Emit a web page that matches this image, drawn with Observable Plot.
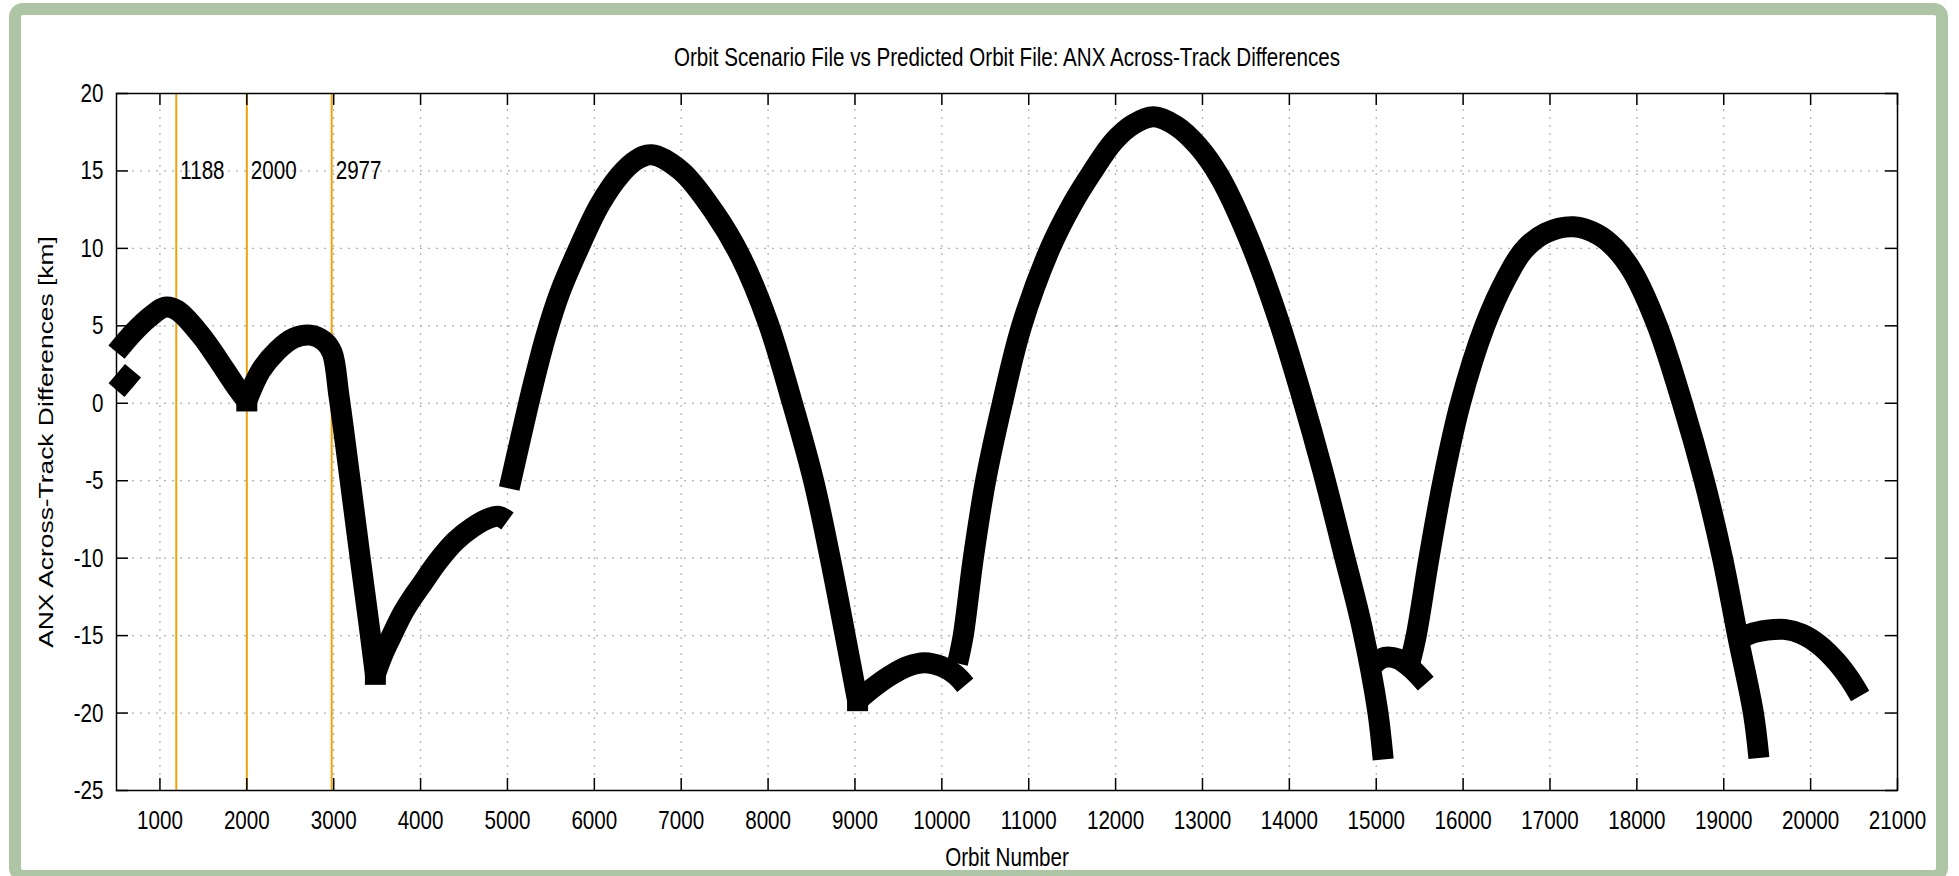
<!DOCTYPE html>
<html><head><meta charset="utf-8">
<script src="https://cdn.jsdelivr.net/npm/d3@7"></script>
<script src="https://cdn.jsdelivr.net/npm/@observablehq/plot@0.6"></script>
<style>
html,body{margin:0;padding:0;background:#fff;overflow:hidden;}
#page{position:relative;width:1959px;height:876px;overflow:hidden;background:#fff;}
#frame{position:absolute;left:9px;top:3px;width:1939px;height:879px;box-sizing:border-box;border:12px solid #adc5a5;border-radius:14px;background:#fff;}
#chart{position:absolute;left:0;top:0;}
</style></head><body><div id="page"><div id="frame"></div><div id="chart"></div></div>
<script>
const FONT = '"Liberation Sans", Arial, Helvetica, sans-serif';
const title = "Orbit Scenario File vs Predicted Orbit File: ANX Across-Track Differences";
const xLabel = "Orbit Number";
const yLabel = "ANX Across-Track Differences [km]";
const xTicks = [1000,2000,3000,4000,5000,6000,7000,8000,9000,10000,11000,12000,13000,14000,15000,16000,17000,18000,19000,20000,21000];
const yTicks = [-25,-20,-15,-10,-5,0,5,10,15,20];
const xDomain = [500, 21000];
const yDomain = [-25, 20];
const markerOrbits = [1188, 2000, 2977];
const markerLabelValue = 15;

// [orbit number, across-track difference km]
const segA  = [[500,0.85],[600,1.5],[690,2.1]];
const segB1 = [[500,3.3],[700,4.6],[890,5.6],[1060,6.2],[1200,6.0],[1470,4.4],[1660,2.9],[1850,1.3],[2000,0.15]];
const segB2 = [[2000,0.15],[2160,2.1],[2350,3.4],[2540,4.2],[2730,4.4],[2880,4.05],[2980,3.3],[3060,0.5],[3190,-5.0],[3305,-10.0],[3400,-14.0],[3480,-17.5]];
const segB3 = [[3480,-17.5],[3560,-16.3],[3650,-15.2],[3800,-13.5],[3900,-12.6],[4000,-11.8],[4200,-10.2],[4400,-8.9],[4600,-8.0],[4800,-7.4],[4900,-7.3],[5000,-7.6]];
const segC1 = [[5020,-5.5],[5150,-2.3],[5300,1.3],[5450,4.5],[5600,7.1],[5820,10.0],[6060,12.8],[6290,14.7],[6480,15.7],[6656,16.05],[7000,15.0],[7385,12.3],[7690,9.4],[8000,5.2],[8270,0.2],[8524,-5],[8715,-10],[8888,-15],[9030,-19.2]];
const segC2 = [[9030,-19.2],[9200,-18.4],[9400,-17.6],[9600,-17.0],[9800,-16.75],[10000,-17.0],[10150,-17.5],[10270,-18.2]];
const segE  = [[10180,-16.8],[10246,-15],[10362,-10],[10504,-5],[10696,0],[10919,5],[11246,10],[11496,12.8],[11727,14.9],[11977,16.9],[12200,18.0],[12438,18.5],[12700,17.9],[12950,16.6],[13200,14.6],[13535,10.6],[13862,5.6],[14131,0.7],[14381,-4.3],[14612,-9.4],[14842,-14.6],[15015,-19.8],[15080,-23.0]];
const segF  = [[14960,-16.9],[15100,-16.4],[15250,-16.5],[15400,-17.1],[15570,-18.1]];
const segG  = [[15390,-16.7],[15460,-15],[15607,-10],[15769,-5],[15969,0],[16250,5],[16509,8.2],[16700,9.9],[16950,11.0],[17272,11.4],[17550,10.9],[17750,10.0],[17950,8.5],[18235,5.0],[18524,0],[18775,-5],[18986,-10],[19160,-15],[19341,-20],[19405,-22.9]];
const segH  = [[19130,-15.4],[19300,-14.9],[19500,-14.65],[19700,-14.6],[19900,-14.9],[20100,-15.6],[20300,-16.7],[20450,-17.8],[20570,-18.9]];

const segments = {A: segA, B1: segB1, B2: segB2, B3: segB3, C1: segC1, C2: segC2, E: segE, F: segF, G: segG, H: segH};
const points = Object.entries(segments).flatMap(([k, arr]) => arr.map(([orbit, diff]) => ({seg: k, orbit, diff})));
// V-shaped turning points where two pieces meet (drawn as square markers like the source)
const joints = [segB1, segB2, segC1].map(s => s[s.length - 1]).map(([orbit, diff]) => ({orbit, diff}));

const W = 1959, H = 876, mt = 93, mb = 86, ml = 116, mr = 62;
const innerW = W - ml - mr, innerH = H - mt - mb;
const tick = 12;
const fs = 20.6;
const BAND = 21;

const plot = Plot.plot({
  width: W, height: H,
  marginTop: mt, marginBottom: mb, marginLeft: ml, marginRight: mr,
  style: {background: "transparent", fontFamily: FONT, fontSize: fs + "px", color: "black"},
  x: {domain: xDomain},
  y: {domain: yDomain},
  marks: [
    Plot.ruleX(xTicks, {stroke: "#b0b0b0", strokeWidth: 1.2, strokeDasharray: "2,6"}),
    Plot.ruleY(yTicks, {stroke: "#b0b0b0", strokeWidth: 1.2, strokeDasharray: "2,6"}),
    Plot.ruleX(markerOrbits, {stroke: "#f0a30a", strokeWidth: 2}),
    Plot.text(markerOrbits, {x: d => d, y: () => markerLabelValue, text: d => String(d), textAnchor: "start", dx: 4, fontSize: fs, fill: "black"}),
    Plot.line(points, {x: "orbit", y: "diff", z: "seg", stroke: "black", strokeWidth: BAND, curve: "catmull-rom", strokeLinejoin: "round", strokeLinecap: "butt"}),
    Plot.dot(joints, {x: "orbit", y: "diff", symbol: "square", r: BAND / Math.sqrt(Math.PI), fill: "black", stroke: "none"}),
    Plot.ruleX(xTicks, {insetTop: innerH - tick, stroke: "black", strokeWidth: 1.5}),
    Plot.ruleX(xTicks, {insetBottom: innerH - tick, stroke: "black", strokeWidth: 1.5}),
    Plot.ruleY(yTicks, {insetRight: innerW - tick, stroke: "black", strokeWidth: 1.5}),
    Plot.ruleY(yTicks, {insetLeft: innerW - tick, stroke: "black", strokeWidth: 1.5}),
    Plot.frame({stroke: "black", strokeWidth: 1.5}),
    Plot.axisX({ticks: xTicks, tickSize: 0, tickPadding: 20, label: null, fontSize: fs, tickFormat: d => String(d)}),
    Plot.axisY({ticks: yTicks, tickSize: 0, tickPadding: 13, label: null, fontSize: fs, tickFormat: d => String(d)}),
    Plot.text([title], {text: d => d, frameAnchor: "top", textAnchor: "middle", lineAnchor: "middle", dy: -36, fontSize: fs, fill: "black"}),
    Plot.text([xLabel], {text: d => d, frameAnchor: "bottom", textAnchor: "middle", lineAnchor: "middle", dy: 67, fontSize: fs, fill: "black"}),
    Plot.text([yLabel], {text: d => d, frameAnchor: "left", textAnchor: "middle", lineAnchor: "middle", dx: -70, rotate: -90, fontSize: fs, fill: "black"})
  ]
});

// The source image is stretched vertically: stretch glyphs the same way.
const K = 1.28;
plot.querySelectorAll("text").forEach(t => {
  const tr = t.getAttribute("transform");
  if (tr) {
    t.setAttribute("transform", tr + (/rotate\(/.test(tr) ? ` scale(${K},1)` : ` scale(1,${K})`));
  } else {
    const x = +t.getAttribute("x") || 0, y = +t.getAttribute("y") || 0;
    t.setAttribute("transform", `translate(${x},${y}) scale(1,${K}) translate(${-x},${-y})`);
  }
});
document.getElementById("chart").appendChild(plot);
</script>
</body></html>
